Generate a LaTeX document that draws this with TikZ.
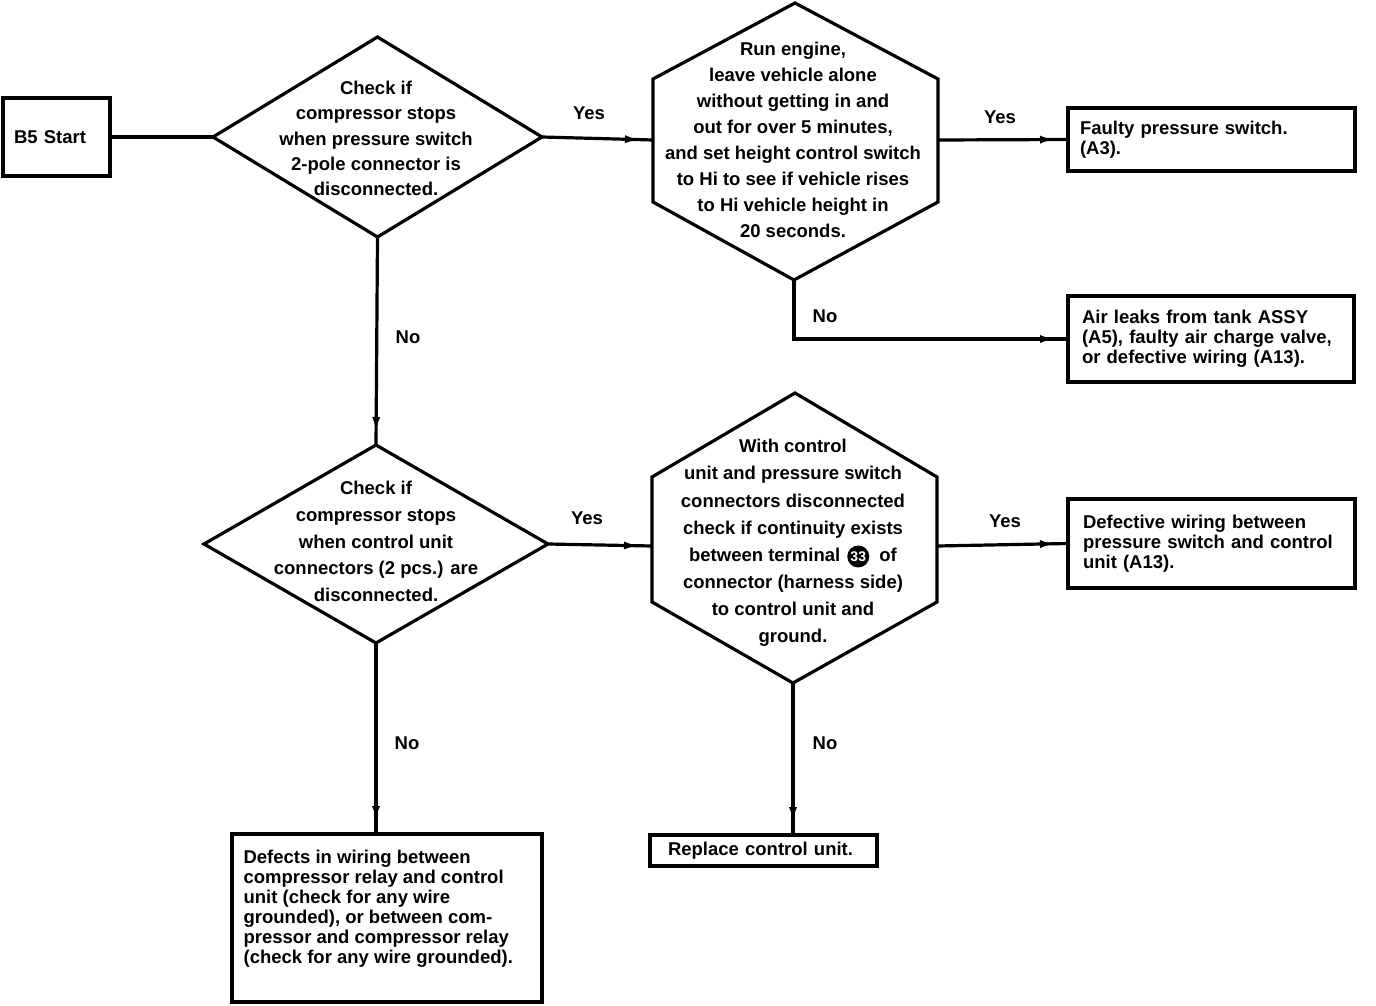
\documentclass[tikz,border=0pt]{standalone}
\usepackage{fontspec}
\setmainfont{Liberation Sans}
\usetikzlibrary{shapes.geometric,arrows.meta,decorations.markings}
\newcommand\blackcirc[1]{\tikz[baseline=(bc.base)]\node[circle,fill=black,inner sep=0pt,minimum size=22pt,text=white,font=\fontsize{14}{14}\selectfont\bfseries](bc){#1};}
\begin{document}
\begin{tikzpicture}[x=1pt,y=-1pt, line width=3.2pt,
  every node/.style={font=\fontsize{18.5}{20}\selectfont\bfseries},
  box/.style={draw, rectangle, align=left, inner ysep=3pt, outer sep=0pt},
  dia/.style={draw, diamond, inner sep=0pt, outer sep=0pt},
  txt/.style={align=center, inner sep=0pt},
  lbl/.style={inner sep=0pt},
  arr/.style={postaction={decorate}, decoration={markings, mark=at position #1 with {\arrow{Latex[length=16pt,width=8pt]}}}},
  arr/.default=-12pt]
\useasboundingbox (0,0) rectangle (1376,1006);

% start box
\node[box, minimum width=107pt, minimum height=78pt, text width=85pt, inner xsep=11pt] (start) at (56.5,137) {B5 Start};

% diamond 1
\node[dia, minimum width=329pt, minimum height=200pt] (d1) at (377.5,137) {};
\node[txt, font=\fontsize{18.5}{25.25}\selectfont\bfseries] (t1) at (376,138.5) {Check if\\compressor stops\\when pressure switch\\2-pole connector is\\disconnected.};

% hexagon 1
\coordinate (h1t) at (795,3);
\coordinate (h1ur) at (938,79);
\coordinate (h1lr) at (938,202);
\coordinate (h1b) at (794,280);
\coordinate (h1ll) at (653,202);
\coordinate (h1ul) at (653,79);
\coordinate (h1w) at (653,140);
\coordinate (h1e) at (938,140);
\draw[line join=miter] (h1t) -- (h1ur) -- (h1lr) -- (h1b) -- (h1ll) -- (h1ul) -- cycle;
\node[txt, font=\fontsize{18.5}{26.1}\selectfont\bfseries] (t2) at (793,140) {Run engine,\\leave vehicle alone\\without getting in and\\out for over 5 minutes,\\and set height control switch\\to Hi to see if vehicle rises\\to Hi vehicle height in\\20 seconds.};

% result boxes top right
\node[box, minimum width=287pt, minimum height=63pt, text width=263pt, inner xsep=12pt] (r1) at (1211.5,139.5) {Faulty pressure switch.\\(A3).};
\node[box, minimum width=286pt, minimum height=86pt, text width=258pt, inner xsep=14pt] (r2) at (1211,339) {Air leaks from tank ASSY\\(A5), faulty air charge valve,\\or defective wiring (A13).};

% diamond 2
\node[dia, minimum width=344pt, minimum height=198pt] (d2) at (376,544) {};
\node[txt, font=\fontsize{18.5}{26.75}\selectfont\bfseries] (t3) at (376,541.5) {Check if\\compressor stops\\when control unit\\connectors (2 pcs.) are\\disconnected.};

% hexagon 2
\coordinate (h2t) at (795,393);
\coordinate (h2ur) at (937,477);
\coordinate (h2lr) at (937,602);
\coordinate (h2b) at (793,683);
\coordinate (h2ll) at (652,602);
\coordinate (h2ul) at (652,477);
\coordinate (h2w) at (652,546);
\coordinate (h2e) at (937,546);
\draw[line join=miter] (h2t) -- (h2ur) -- (h2lr) -- (h2b) -- (h2ll) -- (h2ul) -- cycle;
\node[txt, font=\fontsize{18.5}{27.1}\selectfont\bfseries] (t4) at (793,543) {With control\\unit and pressure switch\\connectors disconnected\\check if continuity exists\\between terminal\hspace{7pt}\blackcirc{33}\hspace{5pt} of\\connector (harness side)\\to control unit and\\ground.};

\node[box, minimum width=287pt, minimum height=89pt, text width=257pt, inner xsep=15pt] (r3) at (1211.5,543.5) {Defective wiring between\\pressure switch and control\\unit (A13).};

% bottom boxes
\node[box, minimum width=227pt, minimum height=31pt, text width=191pt, inner xsep=18pt, inner ysep=1pt] (r5) at (763.5,850.5) {Replace control unit.};
\node[draw, rectangle, minimum width=310pt, minimum height=168pt, inner sep=0pt, outer sep=0pt] (r4) at (387,918) {};
\node[anchor=north west, align=left, inner sep=0pt] (t5) at (242,848) {Defects in wiring between\\compressor relay and control\\unit (check for any wire\\grounded), or between com-\\pressor and compressor relay\\(check for any wire grounded).};

% connectors
\draw (start.east) -- (d1.west);
\draw[arr] (d1.east) -- (h1w);
\draw[arr] (h1e) -- (r1.west);
\draw[arr] (h1b) -- (h1b |- r2.west) -- (r2.west);
\draw[arr] (d1.south) -- (d2.north);
\draw[arr] (d2.east) -- (h2w);
\draw[arr] (h2e) -- (r3.west);
\draw[arr] (h2b) -- (h2b |- r5.north);
\draw[arr] (d2.south) -- (d2.south |- r4.north);

% labels
\node[lbl] (y1) at (589,113) {Yes};
\node[lbl] (y2) at (1000,117) {Yes};
\node[lbl] (n1) at (825,316) {No};
\node[lbl] (n2) at (408,337) {No};
\node[lbl] (y3) at (587,518) {Yes};
\node[lbl] (y4) at (1005,521) {Yes};
\node[lbl] (n3) at (825,743) {No};
\node[lbl] (n4) at (407,743) {No};
\end{tikzpicture}
\end{document}
